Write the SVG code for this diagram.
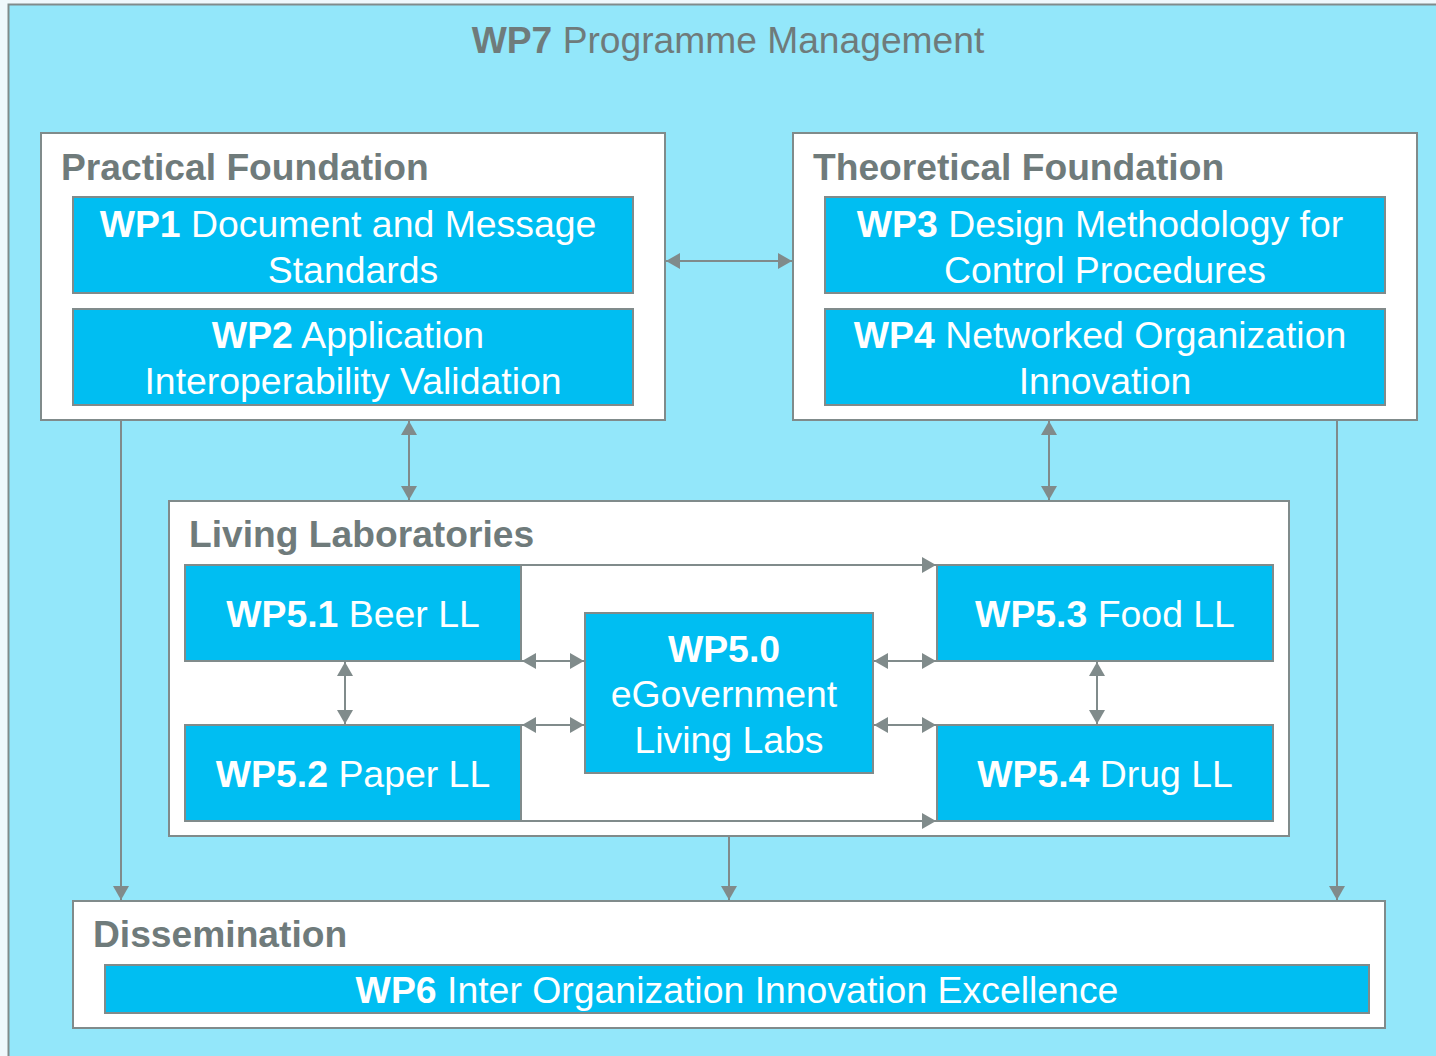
<svg xmlns="http://www.w3.org/2000/svg" width="1436" height="1056" viewBox="0 0 1436 1056">
<style>
  .grp{fill:#ffffff;stroke:#808b8b;stroke-width:2}
  .wp{fill:#00bef2;stroke:#808b8b;stroke-width:2}
  .gt{font-family:"Liberation Sans",Arial,sans-serif;font-size:37.2px;font-weight:bold;fill:#6f7b7b}
  .wt{font-family:"Liberation Sans",Arial,sans-serif;font-size:37.4px;fill:#ffffff;text-anchor:middle}
  .b{font-weight:bold}
  .con{stroke:#808b8b;stroke-width:2;fill:none}
</style>
<defs>
  <marker id="ah" markerUnits="userSpaceOnUse" markerWidth="14" markerHeight="16" refX="14" refY="8" orient="auto-start-reverse" viewBox="0 0 14 16">
    <path d="M0,0 L14,8 L0,16 z" fill="#808b8b"/>
  </marker>
</defs>
<rect x="0" y="0" width="1436" height="1056" fill="#eff8fc"/>
<g id="wp7">
  <rect x="8.5" y="4.5" width="1440" height="1060" fill="#93e7fa" stroke="#808b8b" stroke-width="2"/>
  <text x="728" y="53" class="gt" style="font-weight:normal;text-anchor:middle"><tspan class="b">WP7</tspan> Programme Management</text>
</g>
<g id="practical">
  <rect class="grp" x="41" y="133" width="624" height="287"/>
  <text class="gt" x="61" y="180">Practical Foundation</text>
</g>
<g id="wp1">
  <rect class="wp" x="73" y="197" width="560" height="96"/>
  <text class="wt" x="348" y="237"><tspan class="b">WP1</tspan> Document and Message</text>
  <text class="wt" x="353" y="283">Standards</text>
</g>
<g id="wp2">
  <rect class="wp" x="73" y="309" width="560" height="96"/>
  <text class="wt" x="348" y="348"><tspan class="b">WP2</tspan> Application</text>
  <text class="wt" x="353" y="394">Interoperability Validation</text>
</g>
<g id="theoretical">
  <rect class="grp" x="793" y="133" width="624" height="287"/>
  <text class="gt" x="813" y="180">Theoretical Foundation</text>
</g>
<g id="wp3">
  <rect class="wp" x="825" y="197" width="560" height="96"/>
  <text class="wt" x="1100" y="237"><tspan class="b">WP3</tspan> Design Methodology for</text>
  <text class="wt" x="1105" y="283">Control Procedures</text>
</g>
<g id="wp4">
  <rect class="wp" x="825" y="309" width="560" height="96"/>
  <text class="wt" x="1100" y="348"><tspan class="b">WP4</tspan> Networked Organization</text>
  <text class="wt" x="1105" y="394">Innovation</text>
</g>
<g id="living">
  <rect class="grp" x="169" y="501" width="1120" height="335"/>
  <text class="gt" x="189" y="547">Living Laboratories</text>
</g>
<g id="wp51">
  <rect class="wp" x="185" y="565" width="336" height="96"/>
  <text class="wt" x="353" y="627"><tspan class="b">WP5.1</tspan> Beer LL</text>
</g>
<g id="wp52">
  <rect class="wp" x="185" y="725" width="336" height="96"/>
  <text class="wt" x="353" y="787"><tspan class="b">WP5.2</tspan> Paper LL</text>
</g>
<g id="wp50">
  <rect class="wp" x="585" y="613" width="288" height="160"/>
  <text class="wt" x="724" y="662"><tspan class="b">WP5.0</tspan></text>
  <text class="wt" x="724" y="707">eGovernment</text>
  <text class="wt" x="729" y="753">Living Labs</text>
</g>
<g id="wp53">
  <rect class="wp" x="937" y="565" width="336" height="96"/>
  <text class="wt" x="1105" y="627"><tspan class="b">WP5.3</tspan> Food LL</text>
</g>
<g id="wp54">
  <rect class="wp" x="937" y="725" width="336" height="96"/>
  <text class="wt" x="1105" y="787"><tspan class="b">WP5.4</tspan> Drug LL</text>
</g>
<g id="dissemination">
  <rect class="grp" x="73" y="901" width="1312" height="127"/>
  <text class="gt" x="93" y="947">Dissemination</text>
</g>
<g id="wp6">
  <rect class="wp" x="105" y="965" width="1264" height="48"/>
  <text class="wt" x="737" y="1003"><tspan class="b">WP6</tspan> Inter Organization Innovation Excellence</text>
</g>
<g id="connectors">
  <line class="con" x1="666" y1="261" x2="792" y2="261" marker-start="url(#ah)" marker-end="url(#ah)"/>
  <line class="con" x1="409" y1="421" x2="409" y2="500" marker-start="url(#ah)" marker-end="url(#ah)"/>
  <line class="con" x1="1049" y1="421" x2="1049" y2="500" marker-start="url(#ah)" marker-end="url(#ah)"/>
  <line class="con" x1="121" y1="421" x2="121" y2="900" marker-end="url(#ah)"/>
  <line class="con" x1="1337" y1="421" x2="1337" y2="900" marker-end="url(#ah)"/>
  <line class="con" x1="729" y1="837" x2="729" y2="900" marker-end="url(#ah)"/>
  <line class="con" x1="521" y1="565" x2="936" y2="565" marker-end="url(#ah)"/>
  <line class="con" x1="521" y1="821" x2="936" y2="821" marker-end="url(#ah)"/>
  <line class="con" x1="522" y1="661" x2="584" y2="661" marker-start="url(#ah)" marker-end="url(#ah)"/>
  <line class="con" x1="522" y1="725" x2="584" y2="725" marker-start="url(#ah)" marker-end="url(#ah)"/>
  <line class="con" x1="874" y1="661" x2="936" y2="661" marker-start="url(#ah)" marker-end="url(#ah)"/>
  <line class="con" x1="874" y1="725" x2="936" y2="725" marker-start="url(#ah)" marker-end="url(#ah)"/>
  <line class="con" x1="345" y1="662" x2="345" y2="724" marker-start="url(#ah)" marker-end="url(#ah)"/>
  <line class="con" x1="1097" y1="662" x2="1097" y2="724" marker-start="url(#ah)" marker-end="url(#ah)"/>
</g>
</svg>
